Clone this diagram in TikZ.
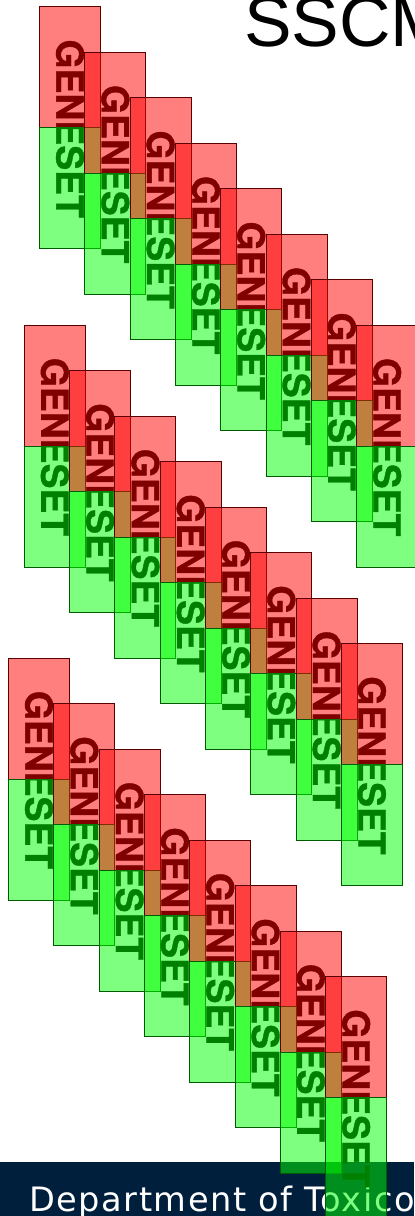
\documentclass[tikz,border=0pt]{standalone}
\usepackage{fontspec}
\setmainfont{Liberation Sans}
\newfontfamily\genefont[FakeBold=1]{texgyreheros-bold.otf}
\newfontfamily\deptfont[LetterSpace=4.5]{DejaVu Sans}
\definecolor{navybar}{RGB}{0,31,61}
\definecolor{genered}{RGB}{128,0,0}
\definecolor{setgreen}{RGB}{0,128,0}

\begin{document}
\begin{tikzpicture}[x=0.75pt,y=-0.75pt,
  genetext/.style={rotate=-90,inner sep=0pt,font=\genefont\fontsize{28}{28}\selectfont},
  redhalf/.style={fill=red,fill opacity=.5,draw=genered!70!black,line width=.75pt},
  greenhalf/.style={fill=green,fill opacity=.5,draw=setgreen!70!black,line width=.75pt}]
  \useasboundingbox (0,0) rectangle (414,1216);
  \node[anchor=base west,inner sep=0pt,font=\fontsize{53.5}{54}\selectfont] (title) at (244,46.7) {SSCM};
  % footer bar
  \fill[navybar] (0,1162) rectangle (414,1216);
  \node[anchor=base west,inner sep=0pt,text=white,font=\deptfont\fontsize{25.2}{26}\selectfont] (dept) at (29,1211.5) {Department of Toxico};
  % three runs of gene set boxes
  \foreach \sx/\sy [count=\s] in {39.5/6.7,24.3/325,8.5/658}
    \foreach \i in {0,...,7} {
      \coordinate (b\s-\i) at ({\sx+45.3*\i},{\sy+45.5*\i});
      \coordinate (m\s-\i) at ([shift={(0,121)}]b\s-\i);
      \filldraw[redhalf] (b\s-\i) rectangle ++(61,121);
      \filldraw[greenhalf] (m\s-\i) rectangle ++(61,121);
      \begin{scope}
        \clip (b\s-\i) rectangle ++(61,121);
        \node[genetext,text=genered] (gene\s-\i) at ([shift={(30.5,122)}]b\s-\i) {GENESET};
      \end{scope}
      \begin{scope}
        \clip (m\s-\i) rectangle ++(61,121);
        \node[genetext,text=setgreen] (set\s-\i) at ([shift={(30.5,122)}]b\s-\i) {GENESET};
      \end{scope}
    }
\end{tikzpicture}
\end{document}
